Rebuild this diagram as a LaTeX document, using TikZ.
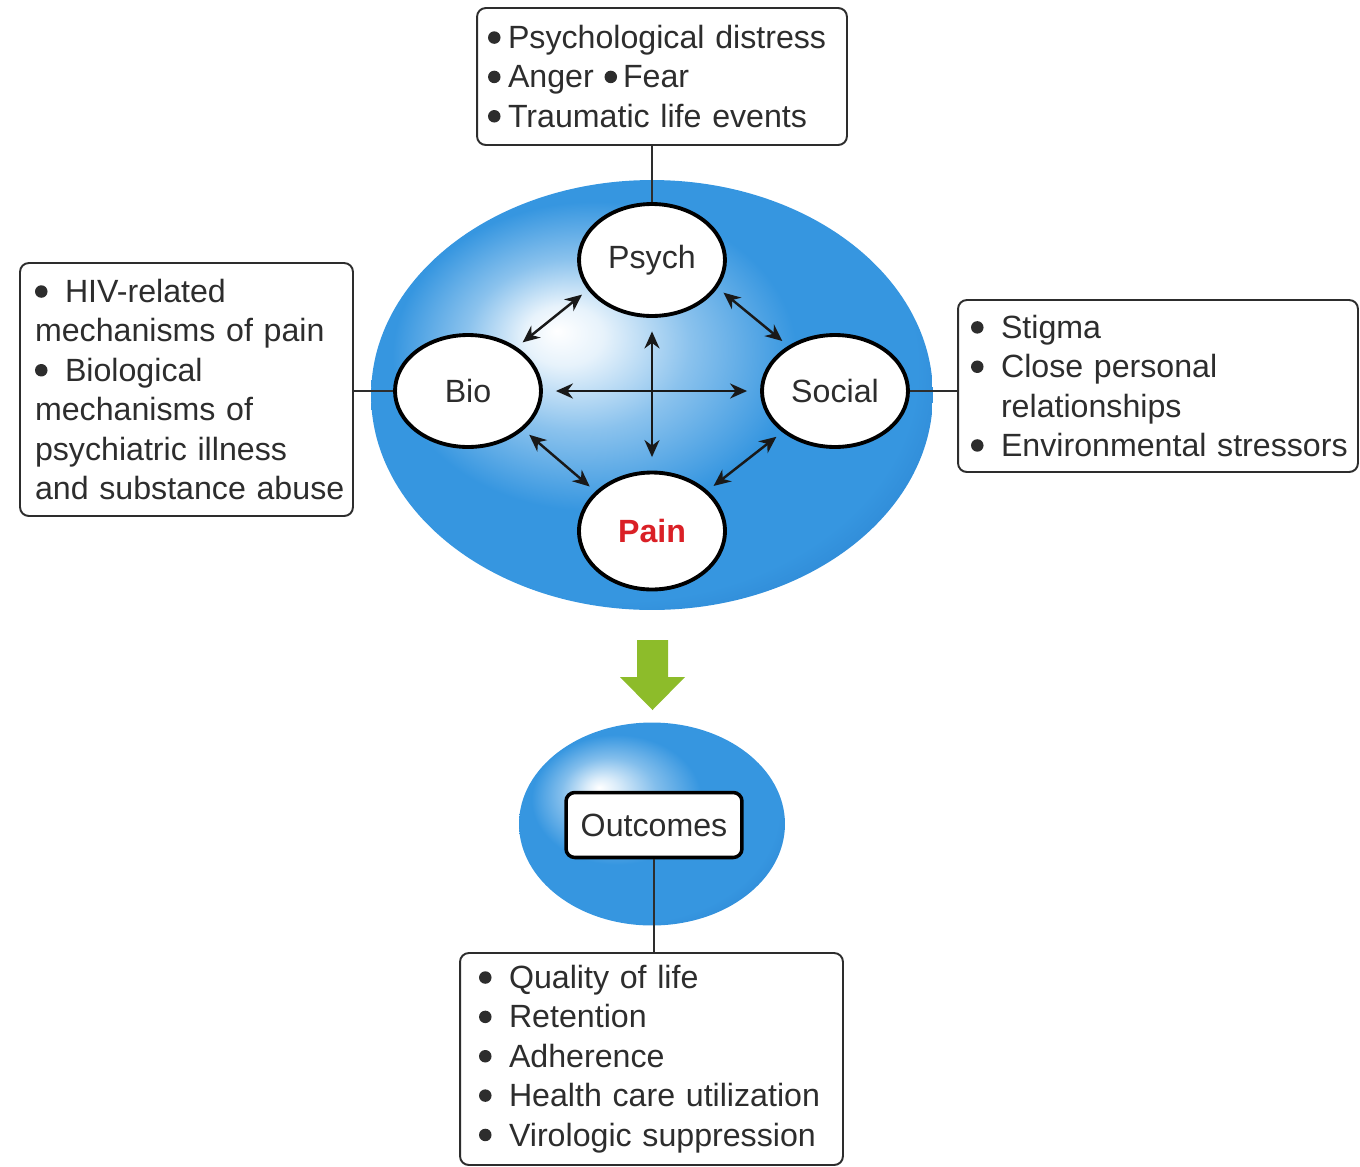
\documentclass[tikz,border=0pt]{standalone}
\usepackage{fontspec}
\setmainfont{Liberation Sans}
\usetikzlibrary{
  arrows.meta,
  positioning,
  shapes.geometric,
  calc
}
\definecolor{bpsblue}{RGB}{54,150,224}
\definecolor{bpsdark}{RGB}{36,118,198}
\definecolor{painred}{RGB}{218,32,38}
\definecolor{arrowgreen}{RGB}{141,188,42}
\definecolor{inkgray}{RGB}{45,45,45}

% glossy blue: light spot up left, deeper blue down right
% (the path box is fitted to the -25bp..25bp square)
\pgfdeclareradialshading[bpsblue,bpsdark]{bpsglow}{\pgfpoint{-8.5bp}{7.5bp}}{%
  color(0bp)=(white); color(3.5bp)=(white!88!bpsblue); color(10bp)=(white!42!bpsblue);
  color(18bp)=(bpsblue); color(27bp)=(bpsblue); color(35bp)=(bpsdark);
  color(45bp)=(bpsdark)}
\pgfdeclareradialshading[bpsblue,bpsdark]{outglow}{\pgfpoint{-10bp}{9bp}}{%
  color(0bp)=(white); color(3bp)=(white!82!bpsblue); color(9bp)=(white!38!bpsblue);
  color(16bp)=(bpsblue); color(28bp)=(bpsblue); color(38bp)=(bpsdark);
  color(48bp)=(bpsdark)}

\hyphenpenalty=10000
\exhyphenpenalty=10000

% bullet mark and hanging indent for the lists
\newcommand{\dotmark}{\raisebox{0.15em}{\tikz\fill[inkgray] (0,0) circle (0.125cm);}}
\newcommand{\itm}{\makebox[0.6cm][l]{\dotmark}}
\newcommand{\hng}{\hspace*{0.6cm}}

\begin{document}
\begin{tikzpicture}[x=0.02cm, y=-0.02cm, >={Stealth[length=0.34cm,width=0.3cm]},
  font=\fontsize{18.3}{22.4}\selectfont, text=inkgray,
  factor/.style={ellipse, draw=black, line width=2.2pt, fill=white, inner sep=0pt,
    minimum width=2.92cm, minimum height=2.24cm},
  infobox/.style={draw=inkgray, line width=1.1pt, rounded corners=5pt, fill=white,
    align=left, inner ysep=0pt},
  blob/.style={ellipse, inner sep=0pt, shading=#1},
  link/.style={draw=inkgray, line width=1.2pt},
  dbl/.style={<->, line width=1.4pt, black!90, shorten <=#1, shorten >=#1},
  dbl/.default=0.15cm]

  \useasboundingbox (0,0) rectangle (1360,1167);

  % ---- big bio-psycho-social ellipse ----
  \node[blob=bpsglow, minimum width=11.24cm, minimum height=8.6cm] (bps) at (652,395) {};

  % ---- the four factors ----
  \node[factor] (psych) at (652,260) {Psych};
  \node[factor] (bio) at (468,391) {Bio};
  \node[factor] (social) at (835,391) {Social};
  \node[factor, minimum height=2.34cm, text=painred] (pain) at (652,531) {\bfseries Pain};

  \draw[dbl=0.26cm] (bio) -- (social);
  \draw[dbl=0.27cm] (psych) -- (pain);
  \draw[dbl] (bio.42) -- (psych.205);
  \draw[dbl] (psych.337) -- (social.136);
  \draw[dbl] (bio.325) -- (pain.145);
  \draw[dbl] (pain.36) -- (social.218);

  % ---- factor boxes ----
  \node[infobox, inner xsep=0.22cm, text width=6.96cm, minimum height=2.74cm] (psybox) at (662,76.5) {%
    \dotmark\hspace{0.15cm}Psychological distress\\
    \dotmark\hspace{0.15cm}Anger \dotmark\hspace{0.12cm}Fear\\
    \dotmark\hspace{0.15cm}Traumatic life events};
  \node[infobox, inner xsep=0.3cm, text width=6.06cm, minimum height=5.06cm] (biobox) at (186.5,389.5) {%
    \itm HIV-related\\
    mechanisms of pain\\
    \itm Biological\\
    mechanisms of\\
    psychiatric illness\\
    \mbox{and substance abuse}};
  \node[infobox, inner xsep=0.26cm, text width=7.48cm, minimum height=3.44cm] (socbox) at (1158,386) {%
    \itm Stigma\\
    \itm Close personal\\
    \hng relationships\\
    \mbox{\itm Environmental stressors}};

  \draw[link] (psybox.south -| psych.north) -- (psych.north);
  \draw[link] (biobox.east |- bio.west) -- (bio.west);
  \draw[link] (social.east) -- (social.east -| socbox.west);

  % ---- pain leads to outcomes ----
  \fill[arrowgreen] (637,640) -- (668,640) -- (668,677) -- (685,677) -- (652.5,710)
    -- (620,677) -- (637,677) -- cycle;

  \node[blob=outglow, minimum width=5.32cm, minimum height=4.06cm] (outblob) at (652,824) {};
  \node[draw=black, line width=2pt, rounded corners=5pt, fill=white,
        minimum width=3.52cm, minimum height=1.3cm] (outc) at (654,825) {Outcomes};

  \node[infobox, inner xsep=0.38cm, text width=6.9cm, minimum height=4.24cm] (outbox) at (651.5,1059) {%
    \itm Quality of life\\
    \itm Retention\\
    \itm Adherence\\
    \itm Health care utilization\\
    \itm Virologic suppression};

  \draw[link] (outc.south) -- (outc.south |- outbox.north);

\end{tikzpicture}
\end{document}
